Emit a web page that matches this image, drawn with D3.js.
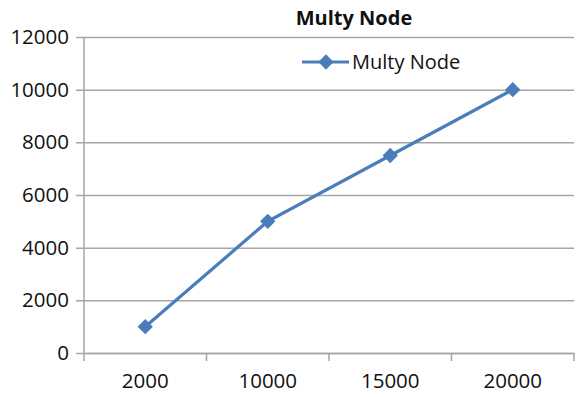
<!DOCTYPE html>
<html lang="en">
<head>
<meta charset="utf-8">
<title>Multy Node</title>
<script src="https://cdn.jsdelivr.net/npm/d3@7"></script>
<style>
  body { margin: 0; background: #fff; }
  text { font-family: "Open Sans", "Liberation Sans", sans-serif; fill: #111; }
</style>
</head>
<body>
<script>
// data
var categories = ["2000", "10000", "15000", "20000"];
var values = [1000, 5000, 7500, 10000];
var yTicks = [0, 2000, 4000, 6000, 8000, 10000, 12000];
var seriesName = "Multy Node";

var w = 576, h = 397;
var padL = 84, padR = 574, padT = 37, padB = 353;
var blue = "#4a7ebb", grid = "#a6a6a6";

var svg = d3.select("body").append("svg")
  .attr("width", w)
  .attr("height", h);

var x = d3.scaleBand().domain(categories).range([padL, padR]);
var y = d3.scaleLinear().domain([0, 12000]).range([padB, padT]);

// gridlines + y labels
var yAxis = d3.axisLeft(y)
  .tickValues(yTicks)
  .tickSize(8)
  .tickPadding(8)
  .tickFormat(d3.format("d"));

svg.append("g")
  .attr("transform", "translate(" + padL + ",0)")
  .call(yAxis)
  .call(function(g) {
    g.select(".domain").remove();
    g.selectAll(".tick line").attr("stroke", grid).attr("stroke-width", 1.5)
      .attr("x1", -8).attr("x2", padR - padL);
    g.selectAll(".tick text").attr("font-size", "20.5px").attr("x", -15);
  });

// y axis line
svg.append("line")
  .attr("x1", padL).attr("x2", padL)
  .attr("y1", padT).attr("y2", padB)
  .attr("stroke", grid).attr("stroke-width", 1.5);

// x axis
var xAxis = d3.axisBottom(x).tickSize(0).tickPadding(20);
svg.append("g")
  .attr("transform", "translate(0," + padB + ")")
  .call(xAxis)
  .call(function(g) {
    g.select(".domain").attr("stroke", grid).attr("stroke-width", 1.5);
    g.selectAll(".tick text").attr("font-size", "20.5px");
  });

// category boundary ticks
var bounds = categories.map(function(c) { return x(c); }).concat([x(categories[categories.length - 1]) + x.bandwidth()]);
svg.selectAll(".xtick")
  .data(bounds)
  .enter().append("line")
  .attr("x1", function(d) { return d; })
  .attr("x2", function(d) { return d; })
  .attr("y1", padB).attr("y2", padB + 8)
  .attr("stroke", grid).attr("stroke-width", 1.5);

// series line
var line = d3.line()
  .x(function(d, i) { return x(categories[i]) + x.bandwidth() / 2; })
  .y(function(d) { return y(d); });

svg.append("path")
  .datum(values)
  .attr("d", line)
  .attr("fill", "none")
  .attr("stroke", blue)
  .attr("stroke-width", 3.2);

var diamond = d3.symbol().type(d3.symbolDiamond2).size(150);

svg.selectAll(".pt")
  .data(values)
  .enter().append("path")
  .attr("d", diamond)
  .attr("fill", blue)
  .attr("transform", function(d, i) {
    return "translate(" + (x(categories[i]) + x.bandwidth() / 2) + "," + y(d) + ")";
  });

// title
svg.append("text")
  .attr("x", 354).attr("y", 25)
  .attr("text-anchor", "middle")
  .attr("font-size", "20px")
  .attr("font-weight", "bold")
  .text(seriesName);

// legend
svg.append("line")
  .attr("x1", 302).attr("x2", 349)
  .attr("y1", 62).attr("y2", 62)
  .attr("stroke", blue).attr("stroke-width", 3.2);
svg.append("path")
  .attr("d", diamond)
  .attr("fill", blue)
  .attr("transform", "translate(326,62)");
svg.append("text")
  .attr("x", 352).attr("y", 69)
  .attr("font-size", "20px")
  .text(seriesName);
</script>
</body>
</html>
